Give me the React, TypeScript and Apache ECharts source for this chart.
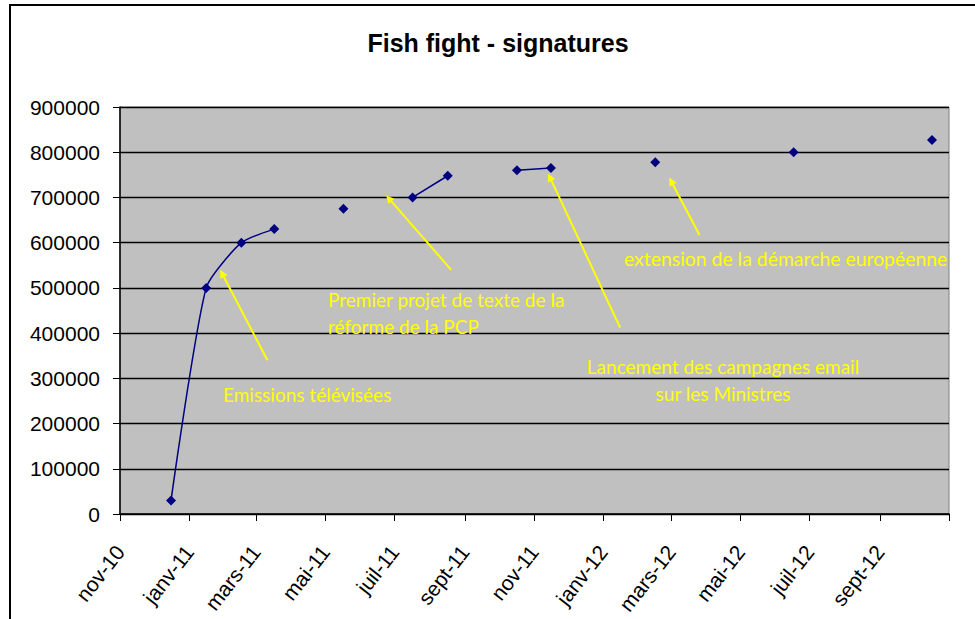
import React, { useEffect, useRef } from "react";
import * as echarts from "echarts";

// Monthly readings of the petition counter (blank months left as null)
const readingDates = [
  "2010-12-16", "2011-01-16", "2011-02-16", "2011-03-17", "2011-04-16", "2011-05-17",
  "2011-06-16", "2011-07-17", "2011-08-17", "2011-09-16", "2011-10-17", "2011-11-16",
  "2011-12-16", "2012-01-16", "2012-02-16", "2012-03-16", "2012-04-16", "2012-05-16",
  "2012-06-17", "2012-07-16", "2012-08-16", "2012-09-16", "2012-10-17",
];
const signatures: (number | null)[] = [
  30000, 500000, 600000, 630000, null, 675000,
  null, 700000, 748000, null, 760000, 765000,
  null, null, 778000, null, null, null,
  800000, null, null, null, 827000,
];

// Axis ticks (every two months) and their labels
const tickDates = [
  "2010-11-01", "2011-01-01", "2011-03-01", "2011-05-01", "2011-07-01", "2011-09-01",
  "2011-11-01", "2012-01-01", "2012-03-01", "2012-05-01", "2012-07-01", "2012-09-01",
  "2012-11-01",
];
const tickLabels = [
  "nov-10", "janv-11", "mars-11", "mai-11", "juil-11", "sept-11",
  "nov-11", "janv-12", "mars-12", "mai-12", "juil-12", "sept-12",
];
const yTicks = [0, 100000, 200000, 300000, 400000, 500000, 600000, 700000, 800000, 900000];

// Event call-outs: arrow tail -> head, in [date, signatures]
const arrowTails: [string, number][] = [
  ["2011-03-11", 340000],
  ["2011-08-20", 540000],
  ["2012-01-16", 412000],
  ["2012-03-26", 617000],
];
const arrowHeads: [string, number][] = [
  ["2011-01-30", 532000],
  ["2011-06-26", 698000],
  ["2011-11-15", 745000],
  ["2012-03-01", 736000],
];

function ts(d: string): number {
  const [y, m, day] = d.split("-").map(Number);
  return new Date(y, m - 1, day).getTime();
}

export default function App() {
  const ref = useRef<HTMLDivElement>(null);

  useEffect(() => {
    if (!ref.current) return;
    const chart = echarts.init(ref.current, undefined, { renderer: "svg" });
    const tickTs = tickDates.map(ts);
    const labelTs = tickTs.slice(0, tickLabels.length);
    const yellow = "#FFFF00";
    const noteFont = "Lato";

    chart.setOption({
      animation: false,
      backgroundColor: "#ffffff",
      grid: {
        left: 120,
        top: 107,
        width: 829,
        height: 407,
        show: true,
        backgroundColor: "#C0C0C0",
        borderColor: "#808080",
        borderWidth: 1,
      },
      xAxis: {
        type: "value",
        min: tickTs[0],
        max: tickTs[tickTs.length - 1],
        splitLine: { show: false },
        axisLine: { show: true, onZero: false, lineStyle: { color: "#000", width: 1.5 } },
        axisTick: {
          show: true,
          length: 7,
          customValues: tickTs,
          lineStyle: { color: "#000", width: 1 },
        },
        axisLabel: {
          customValues: labelTs,
          rotate: 52,
          margin: 34,
          color: "#000",
          fontFamily: "Liberation Sans",
          fontSize: 21,
          formatter: (v: number) => {
            const i = labelTs.indexOf(v);
            return i >= 0 ? tickLabels[i] : "";
          },
        },
      },
      yAxis: {
        type: "value",
        min: yTicks[0],
        max: yTicks[yTicks.length - 1],
        interval: 100000,
        axisLine: { show: true, lineStyle: { color: "#000", width: 1.5 } },
        axisTick: { show: true, length: 7, lineStyle: { color: "#000" } },
        splitLine: { show: true, lineStyle: { color: "#000", width: 1.3 } },
        axisLabel: {
          color: "#000",
          fontFamily: "Liberation Sans",
          fontSize: 21,
          margin: 20,
          formatter: (v: number) => String(v),
        },
      },
      series: [
        {
          type: "line",
          data: readingDates.map((d, i) => [ts(d), signatures[i]]),
          connectNulls: false,
          smooth: 0.2,
          symbol: "diamond",
          symbolSize: 10,
          itemStyle: { color: "#000080" },
          lineStyle: { color: "#000080", width: 1.5 },
          markLine: {
            silent: true,
            symbol: ["none", "triangle"],
            symbolSize: 8,
            label: { show: false },
            lineStyle: { color: yellow, width: 2, type: "solid" },
            data: arrowTails.map((t, i) => [
              { coord: [ts(t[0]), t[1]] },
              { coord: [ts(arrowHeads[i][0]), arrowHeads[i][1]] },
            ]),
          },
        },
      ],
      graphic: [
        {
          type: "rect",
          shape: { x: 10, y: 5, width: 1000, height: 700 },
          style: { fill: "none", stroke: "#000", lineWidth: 2 },
          silent: true,
          z: 100,
        },
        {
          type: "text",
          x: 498,
          y: 43,
          style: {
            text: "Fish fight - signatures",
            fontFamily: "Liberation Sans",
            fontWeight: "bold",
            fontSize: 25,
            fill: "#000",
            align: "center",
            verticalAlign: "middle",
          },
        },
        {
          type: "text",
          x: 223,
          y: 394,
          z: 50,
          style: {
            text: "Emissions télévisées",
            fontFamily: noteFont,
            fontSize: 19,
            fill: yellow,
            align: "left",
            verticalAlign: "middle",
          },
        },
        {
          type: "text",
          x: 328,
          y: 313,
          z: 50,
          style: {
            text: "Premier projet de texte de la\nréforme de la PCP",
            fontFamily: noteFont,
            fontSize: 19,
            lineHeight: 27,
            fill: yellow,
            align: "left",
            verticalAlign: "middle",
          },
        },
        {
          type: "text",
          x: 723,
          y: 380,
          z: 50,
          style: {
            text: "Lancement des campagnes email\nsur les Ministres",
            fontFamily: noteFont,
            fontSize: 19,
            lineHeight: 27,
            fill: yellow,
            align: "center",
            verticalAlign: "middle",
          },
        },
        {
          type: "text",
          x: 624,
          y: 258,
          z: 50,
          style: {
            text: "extension de la démarche européenne",
            fontFamily: noteFont,
            fontSize: 19.4,
            fill: yellow,
            align: "left",
            verticalAlign: "middle",
          },
        },
      ],
    });

    return () => chart.dispose();
  }, []);

  return (
    <div
      ref={ref}
      style={{ position: "fixed", left: 0, top: 0, width: 975, height: 619 }}
    />
  );
}
